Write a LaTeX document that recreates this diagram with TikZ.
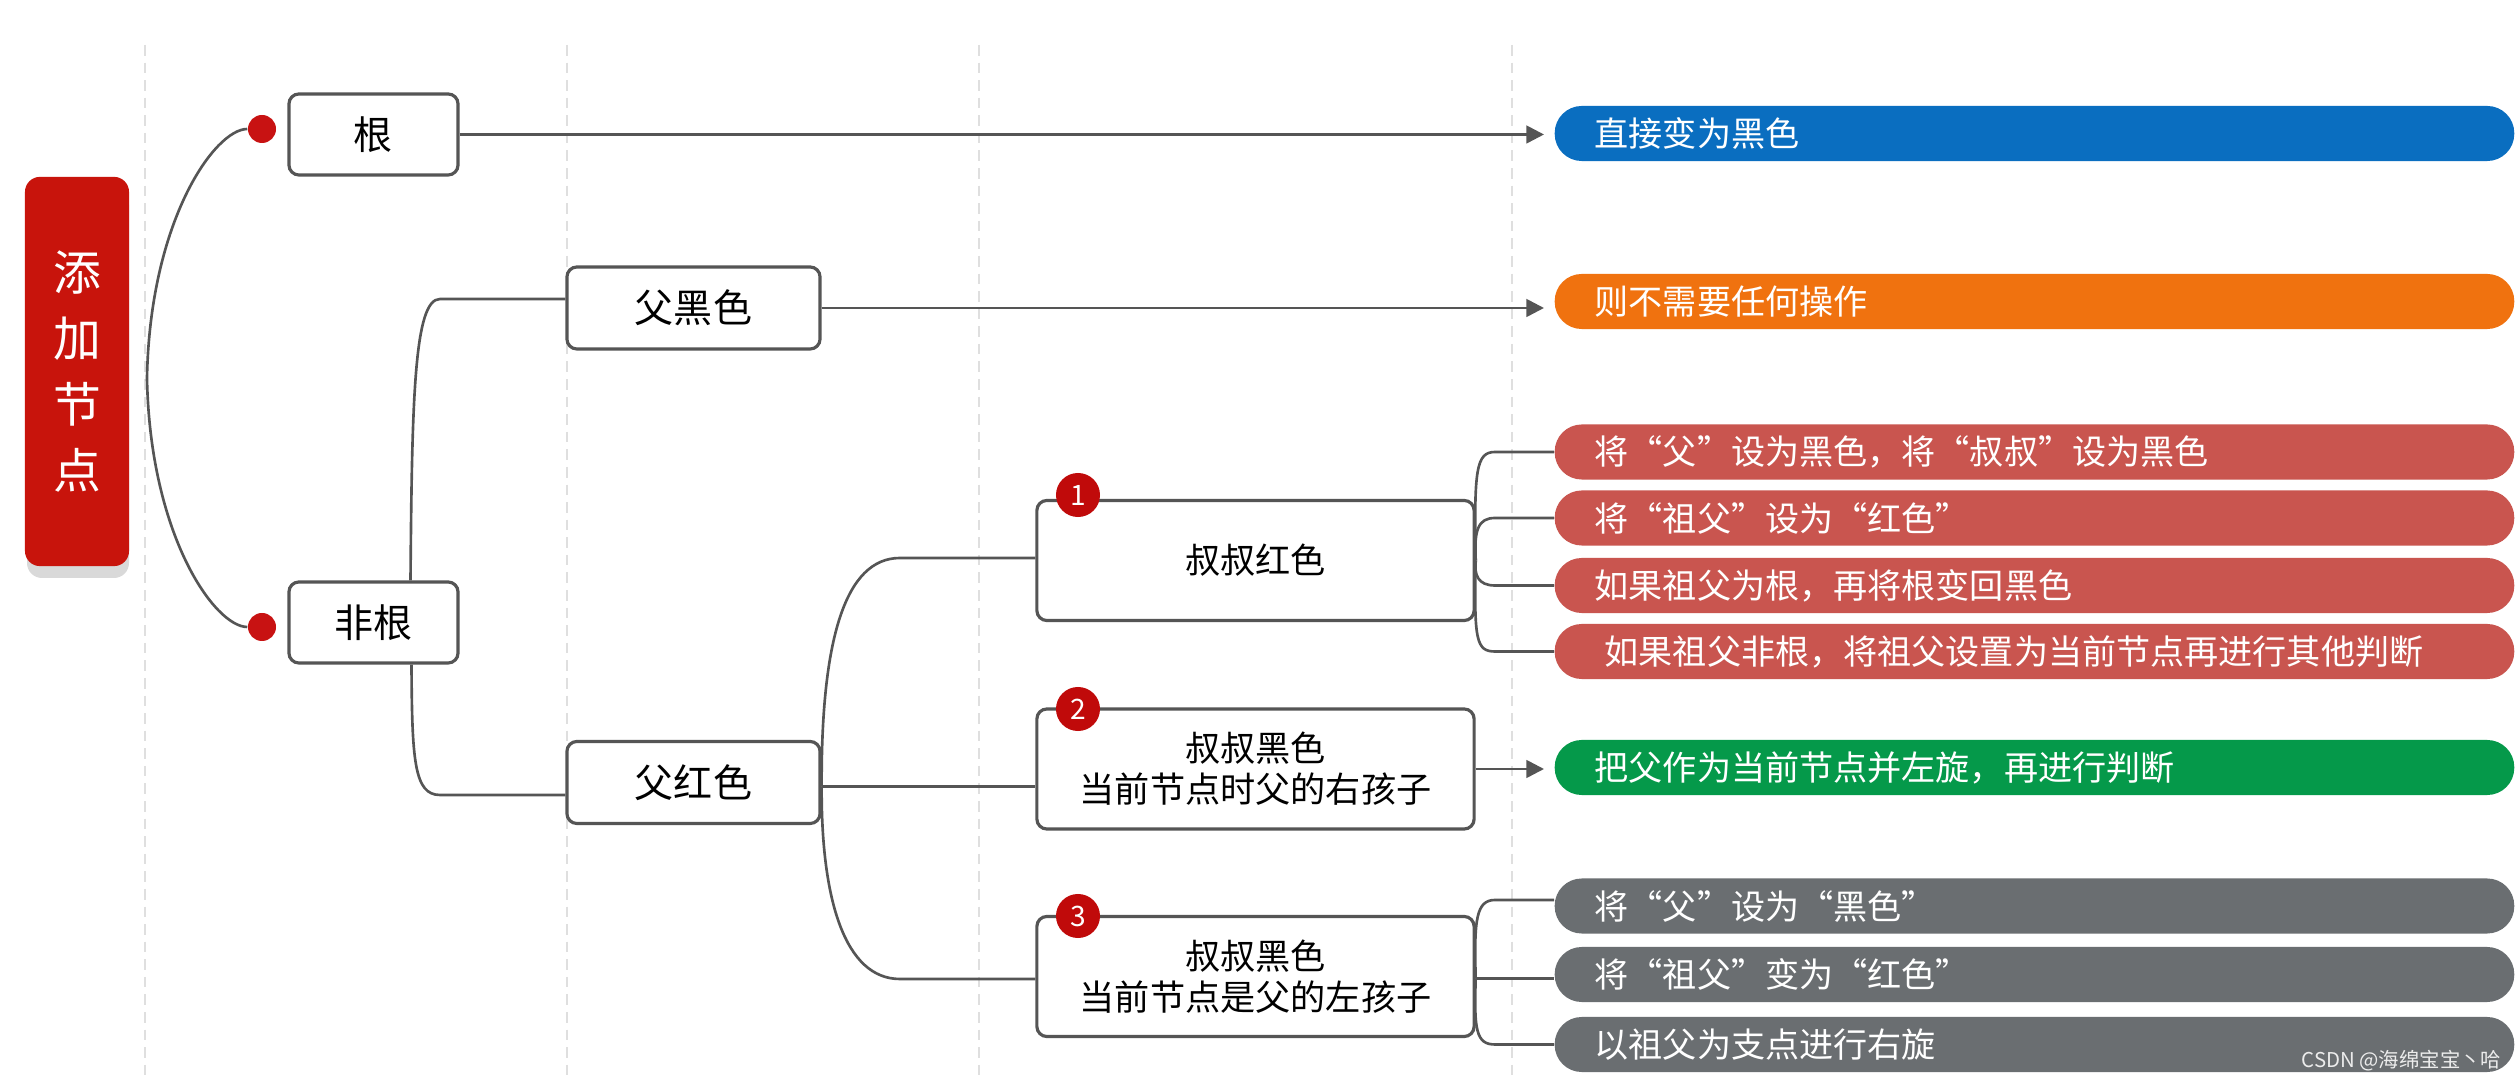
\documentclass[tikz,border=0pt]{standalone}
\usepackage{fontspec}
\setmainfont{Noto Sans CJK SC}
\usetikzlibrary{arrows.meta,calc}
\definecolor{lineC}{HTML}{555555}
\definecolor{rootRed}{HTML}{C8140C}
\definecolor{dotRed}{HTML}{C81212}
\definecolor{badgeRed}{HTML}{C00A0A}
\definecolor{blueBar}{HTML}{0A6EC0}
\definecolor{orangeBar}{HTML}{F0720F}
\definecolor{redBar}{HTML}{C9554F}
\definecolor{greenBar}{HTML}{05994A}
\definecolor{greyBar}{HTML}{6A6E71}
\tikzset{
  box/.style={draw=lineC, line width=0.9pt, rounded corners=0.1cm, fill=white, inner sep=0pt, align=center},
  lvA/.style={box, minimum width=1.69cm, minimum height=0.81cm, font=\fontsize{11.1pt}{13pt}\selectfont},
  lvAw/.style={box, minimum width=2.53cm, minimum height=0.82cm, font=\fontsize{11.1pt}{13pt}\selectfont},
  lvB/.style={box, minimum width=4.37cm, minimum height=1.2cm, font=\fontsize{10pt}{11.7pt}\selectfont},
  bar/.style={rounded corners=0.27cm, minimum height=0.55cm, text width=8.79cm, inner xsep=0.4cm, inner ysep=0pt, align=left, text=white, font=\fontsize{9.7pt}{11pt}\selectfont, anchor=west},
  conn/.style={draw=lineC, line width=0.75pt},
  arr/.style={conn, -{Triangle[length=5pt,width=5pt]}},
  dotmark/.style={circle, fill=dotRed, minimum size=0.28cm, inner sep=0pt},
  badge/.style={circle, fill=badgeRed, minimum size=0.44cm, inner sep=0pt, text=white, font=\fontsize{8pt}{8pt}\selectfont},
  guide/.style={draw=gray!25, dash pattern=on 3pt off 2pt, line width=0.3pt},
}
\begin{document}
\begin{tikzpicture}[x=0.01cm, y=-0.01cm]
\fill[white] (0,0) rectangle (2517,1080);
\useasboundingbox (0,0) rectangle (2517,1080);
% guide lines
\foreach \gx in {145,567,979,1512} \draw[guide] (\gx,45) -- (\gx,1080);
% root
\fill[black!15, rounded corners=0.15cm] (27,190) rectangle (129,578);
\node[fill=rootRed, rounded corners=0.15cm, minimum width=1.04cm, minimum height=3.89cm, inner sep=0pt, text=white, align=center, font=\fontsize{13.6pt}{18.7pt}\selectfont] (root) at (77,371.5) {添\\加\\节\\点};
% dots
\node[dotmark] (dA) at (262,129) {};
\node[dotmark] (dB) at (262,627) {};
% level 1
\node[lvA] (gen) at (373.5,134.5) {根};
\node[lvA] (feigen) at (373.5,622.5) {非根};
% level 2
\node[lvAw] (fuhei) at (693.5,308) {父黑色};
\node[lvAw] (fuhong) at (693.5,782.5) {父红色};
% level 3
\node[lvB] (c1) at (1255.5,560.5) {叔叔红色};
\node[lvB] (c2) at (1255.5,769) {叔叔黑色\\当前节点时父的右孩子};
\node[lvB] (c3) at (1255.5,976.5) {叔叔黑色\\当前节点是父的左孩子};
\node[badge] (b1) at (1078,495) {1};
\node[badge] (b2) at (1078,709) {2};
\node[badge] (b3) at (1078,916) {3};
% bars
\node[bar, fill=blueBar] (barBlue) at (1554,133.5) {直接变为黑色};
\node[bar, fill=orangeBar] (barOrange) at (1554,301.5) {则不需要任何操作};
\node[bar, fill=redBar] (r1) at (1554,452) {将“父”设为黑色，将“叔叔”设为黑色};
\node[bar, fill=redBar] (r2) at (1554,518) {将“祖父”设为“红色”};
\node[bar, fill=redBar] (r3) at (1554,585.5) {如果祖父为根，再将根变回黑色};
\node[bar, fill=redBar] (r4) at (1554,651.5) {\hspace{0.1cm}如果祖父非根，将祖父设置为当前节点再进行其他判断};
\node[bar, fill=greenBar] (barGreen) at (1554,767.5) {把父作为当前节点并左旋，再进行判断};
\node[bar, fill=greyBar] (g1) at (1554,906) {将“父”设为“黑色”};
\node[bar, fill=greyBar] (g2) at (1554,974.5) {将“祖父”变为“红色”};
\node[bar, fill=greyBar] (g3) at (1554,1044.5) {以祖父为支点进行右旋};
\node[text=gray!15, font=\fontsize{5.8pt}{6pt}\selectfont, anchor=east, inner sep=0pt] (wm) at (2502,1061) {CSDN @海绵宝宝丶哈};
% connectors
\coordinate (xe) at (1544,0);
\draw[conn] (dA.west) .. controls (215,129) and (150,220) .. (147,378) .. controls (150,536) and (215,627) .. (dB.west);
\draw[arr] (gen.east) -- (gen.east -| xe);
\draw[conn] ($(feigen.north)+(37,0)$) .. controls (412,400) and (414,299) .. (440,299) -- ($(fuhei.west)+(0,-9)$);
\draw[conn] ($(feigen.south)+(38,0)$) .. controls (412,760) and (414,795) .. (440,795) -- ($(fuhong.west)+(0,12.5)$);
\draw[arr] (fuhei.east) -- (fuhei.east -| xe);
\coordinate (J) at ($(fuhong.east)+(0,4)$);
\draw[conn] (J) .. controls (821,640) and (845,558) .. (900,558) -- ($(c1.west)+(0,-2.5)$);
\draw[conn] (J) -- (c2.west |- J);
\draw[conn] (J) .. controls (821,900) and (845,979) .. (900,979) -- ($(c3.west)+(0,2.5)$);
\coordinate (K) at (c1.east);
\draw[conn] (K) .. controls (1474,470) and (1476,452) .. (1495,452) -- (r1.west);
\draw[conn] (K) .. controls (1474,530) and (1478,518) .. (1495,518) -- (r2.west);
\draw[conn] (K) .. controls (1474,575) and (1478,585.5) .. (1495,585.5) -- (r3.west);
\draw[conn] (K) .. controls (1474,640) and (1476,651.5) .. (1495,651.5) -- (r4.west);
\draw[arr] (c2.east) -- (c2.east -| xe);
\coordinate (K3) at ($(c3.east)+(0,2)$);
\draw[conn] (K3) .. controls (1474,920) and (1476,900) .. (1495,900) -- ($(g1.west)+(0,-6)$);
\draw[conn] (K3) -- (g2.west |- K3);
\draw[conn] (K3) .. controls (1474,1030) and (1476,1044.5) .. (1495,1044.5) -- (g3.west);
\end{tikzpicture}
\end{document}
